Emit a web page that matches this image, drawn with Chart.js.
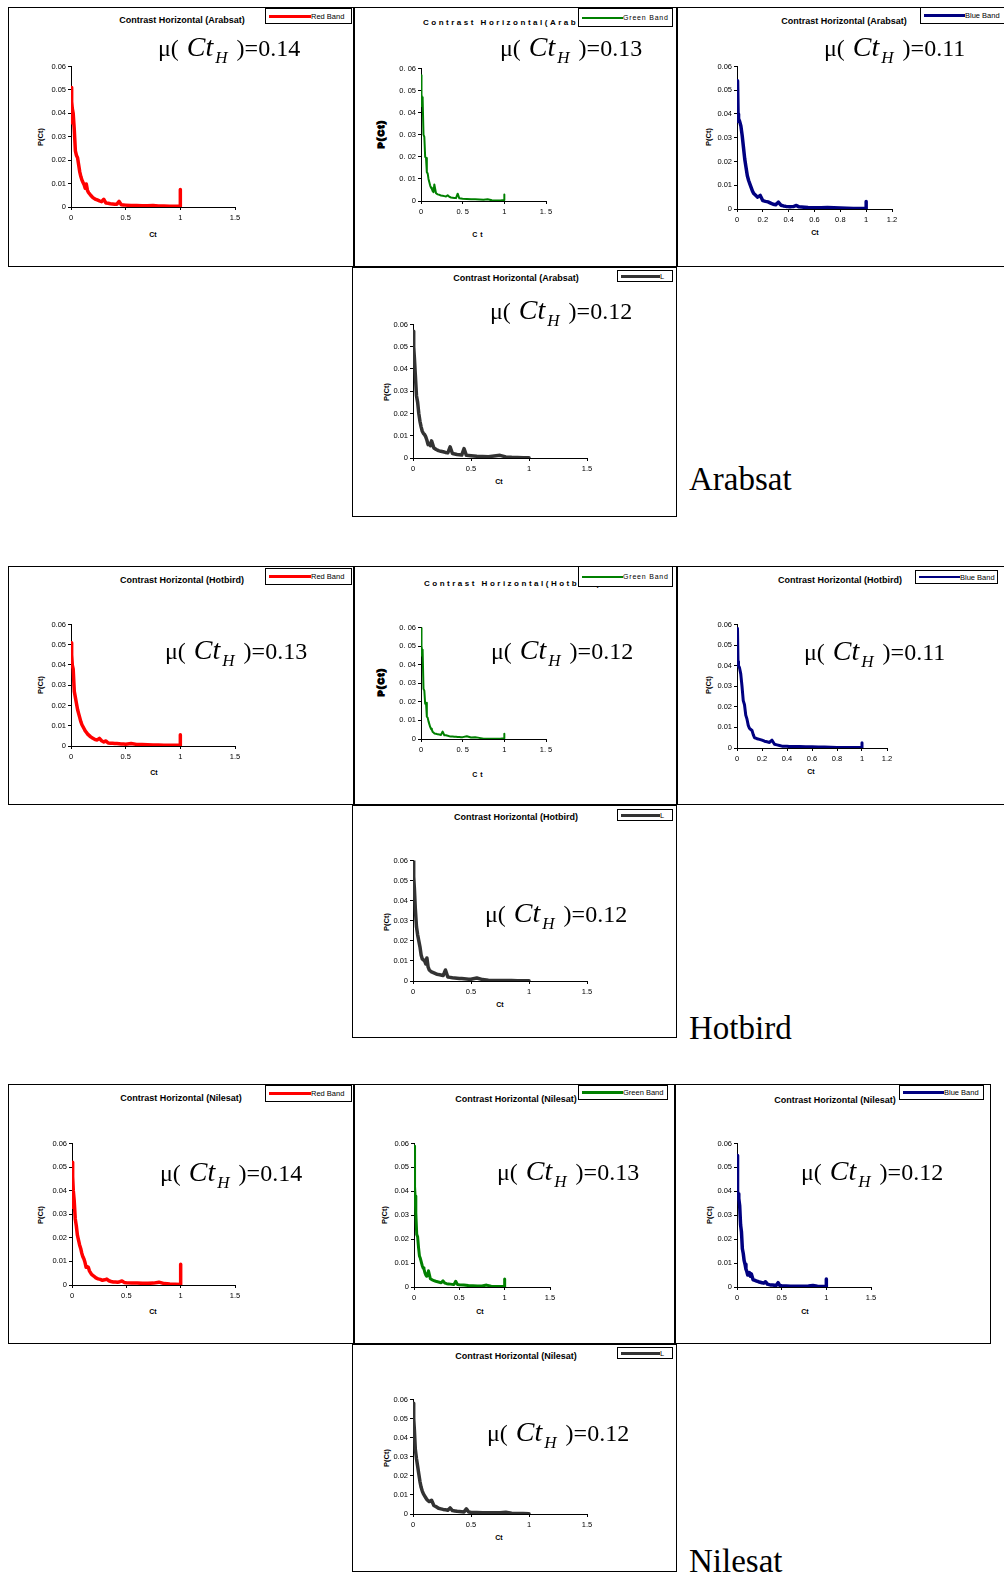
<!DOCTYPE html>
<html>
<head>
<meta charset="utf-8">
<title>Contrast Horizontal</title>
<script src="https://cdn.jsdelivr.net/npm/chart.js@4.4.1/dist/chart.umd.min.js"></script>
<style>
  html, body { margin: 0; padding: 0; background: #fff; width: 1004px; height: 1579px; overflow: hidden; }
  #page { position: relative; width: 1004px; height: 1579px; }
  .box { position: absolute; border: 1px solid #000; box-sizing: border-box; }
  .title { position: absolute; font: bold 9px 'Liberation Sans', Arial, sans-serif; line-height: 10px; white-space: nowrap; transform: translateX(-50%); z-index: 1; }
  .title.spaced { transform: none; font-size: 8px; letter-spacing: 2.5px; }
  .legend { position: absolute; background: #fff; border: 1px solid #000; box-sizing: border-box; display: flex; align-items: center; font: 7.5px 'Liberation Sans', Arial, sans-serif; padding: 0 0 0 3px; z-index: 3; white-space: nowrap; overflow: hidden; }
  .legend .sample { flex: none; }
  .legend.spaced span { letter-spacing: 0.8px; font-size: 7px; }
  .mu { position: absolute; font: 24px 'Liberation Serif', 'Times New Roman', serif; line-height: 1; white-space: nowrap; }
  .mu .ct { font-style: italic; font-size: 28px; line-height: 1; margin-left: 2px; }
  .mu .sub { font-style: italic; font-size: 17px; line-height: 1; position: relative; top: 7px; margin-left: 2px; margin-right: 3px; }
  .ytitle { position: absolute; font: bold 7.5px 'Liberation Sans', Arial, sans-serif; line-height: 8px; white-space: nowrap; transform: translate(-50%, -50%) rotate(-90deg); }
  .ytitle.blob { font-size: 9px; letter-spacing: 1.5px; -webkit-text-stroke: 1.4px #000; }
  .xtitle { position: absolute; font: bold 7px 'Liberation Sans', Arial, sans-serif; line-height: 8px; white-space: nowrap; transform: translate(-50%, -50%); }
  .xtitle.spaced { letter-spacing: 3px; }
  .sat { position: absolute; font: 33px 'Liberation Serif', 'Times New Roman', serif; line-height: 1; }
</style>
</head>
<body>
<div id="page"></div>
<script>
// Ct values (x axis), shared by every curve; last point repeats 1.0 for the end spike
const ctGrid = [
  0, 0.004, 0.008, 0.012,
  0.02, 0.03, 0.04, 0.05, 0.06, 0.07, 0.08, 0.09, 0.1, 0.11, 0.12, 0.13, 0.14, 0.15, 0.16,
  0.18, 0.2, 0.22, 0.24, 0.26, 0.28, 0.3, 0.32, 0.34, 0.36, 0.38, 0.4, 0.42, 0.44, 0.46, 0.48, 0.5,
  0.55, 0.6, 0.65, 0.7, 0.75, 0.8, 0.85, 0.9, 0.95, 1.0, 1.0
];

// P(Ct)
const arabsatRed = [
  0.036, 0.051, 0.045, 0.042,
  0.040, 0.033, 0.024, 0.022, 0.021, 0.018, 0.015, 0.013, 0.0115, 0.0105, 0.0095, 0.008, 0.0098, 0.0072, 0.0062,
  0.005, 0.004, 0.0034, 0.003, 0.0026, 0.0023, 0.0033, 0.0017, 0.0016, 0.0014, 0.0013, 0.0012, 0.0012, 0.0024, 0.001, 0.0009, 0.0008,
  0.0006, 0.0006, 0.0005, 0.0005, 0.0006, 0.0004, 0.0004, 0.0003, 0.0003, 0.0003, 0.0075
];
const arabsatGreen = [
  0.043, 0.057, 0.048, 0.047,
  0.046, 0.030, 0.029, 0.020, 0.0195, 0.013, 0.0125, 0.010, 0.0085, 0.007, 0.006, 0.0055, 0.0045, 0.004, 0.0075,
  0.0035, 0.003, 0.0028, 0.0025, 0.0024, 0.0022, 0.002, 0.0026, 0.0019, 0.0016, 0.0015, 0.0014, 0.0013, 0.0033, 0.0012, 0.0011, 0.001,
  0.0009, 0.0008, 0.0008, 0.0007, 0.0006, 0.0008, 0.0003, 0.0002, 0.0002, 0.0004, 0.003
];
const arabsatBlue = [
  0.037, 0.054, 0.040, 0.038,
  0.037, 0.035, 0.031, 0.026, 0.021, 0.0175, 0.014, 0.012, 0.0105, 0.009, 0.0075, 0.0065, 0.006, 0.0055, 0.005,
  0.0057, 0.0035, 0.0032, 0.003, 0.0025, 0.002, 0.0018, 0.0029, 0.0016, 0.0013, 0.0011, 0.001, 0.001, 0.0011, 0.0015, 0.0009, 0.0008,
  0.0006, 0.0005, 0.0005, 0.0006, 0.0005, 0.0004, 0.0003, 0.0002, 0.0002, 0.0002, 0.0032
];
const arabsatL = [
  0.045, 0.057, 0.050, 0.045,
  0.0375, 0.028, 0.025, 0.020, 0.0165, 0.014, 0.012, 0.011, 0.0105, 0.0095, 0.008, 0.006, 0.0065, 0.0055, 0.0077,
  0.0045, 0.0038, 0.0033, 0.003, 0.0028, 0.0025, 0.0023, 0.005, 0.002, 0.0018, 0.0016, 0.0015, 0.0013, 0.0042, 0.0012, 0.0011, 0.001,
  0.0008, 0.0007, 0.0006, 0.0009, 0.0012, 0.0005, 0.0003, 0.0002, 0.0001, 0.0001, 0.0001
];
const hotbirdRed = [
  0.040, 0.051, 0.045, 0.040,
  0.038, 0.027, 0.024, 0.021, 0.018, 0.016, 0.014, 0.012, 0.0105, 0.0095, 0.0085, 0.0075, 0.0068, 0.006, 0.0055,
  0.0045, 0.0038, 0.0032, 0.003, 0.0038, 0.0026, 0.002, 0.0025, 0.0015, 0.0014, 0.0013, 0.0012, 0.0012, 0.0011, 0.001, 0.001, 0.0009,
  0.0012, 0.0008, 0.0007, 0.0006, 0.0005, 0.0005, 0.0004, 0.0004, 0.0004, 0.0004, 0.0055
];
const hotbirdGreen = [
  0.045, 0.060, 0.050, 0.048,
  0.047, 0.027, 0.026, 0.019, 0.0195, 0.012, 0.0115, 0.0095, 0.008, 0.0065, 0.0055, 0.005, 0.0038, 0.0035, 0.003,
  0.0028, 0.0025, 0.0024, 0.0022, 0.004, 0.002, 0.002, 0.0018, 0.0015, 0.0013, 0.0013, 0.0012, 0.0012, 0.0011, 0.0011, 0.001, 0.001,
  0.0015, 0.0008, 0.001, 0.0006, 0.0001, 0.0001, 0.0001, 0.0001, 0.0001, 0.0004, 0.0028
];
const hotbirdBlue = [
  0.040, 0.058, 0.042, 0.040,
  0.039, 0.036, 0.030, 0.023, 0.021, 0.016, 0.014, 0.011, 0.0095, 0.009, 0.0085, 0.0065, 0.005, 0.0048, 0.0045,
  0.0042, 0.0038, 0.0033, 0.003, 0.0027, 0.0038, 0.0018, 0.0015, 0.0012, 0.0009, 0.0008, 0.0008, 0.0007, 0.0007, 0.0007, 0.0007, 0.0007,
  0.0006, 0.0006, 0.0005, 0.0005, 0.0004, 0.0003, 0.0003, 0.0002, 0.0002, 0.0002, 0.0026
];
const hotbirdL = [
  0.048, 0.060, 0.052, 0.046,
  0.036, 0.027, 0.023, 0.020, 0.017, 0.013, 0.011, 0.0105, 0.010, 0.0085, 0.0115, 0.007, 0.0055, 0.005, 0.0045,
  0.004, 0.0035, 0.0032, 0.003, 0.0027, 0.0055, 0.002, 0.0018, 0.0016, 0.0015, 0.0014, 0.0013, 0.0012, 0.0011, 0.001, 0.0009, 0.0009,
  0.0015, 0.0007, 0.0004, 0.0003, 0.0003, 0.0002, 0.0002, 0.0001, 0.0001, 0.0001, 0.0001
];
const nilesatRed = [
  0.033, 0.052, 0.046, 0.040,
  0.036, 0.028, 0.025, 0.021, 0.019, 0.017, 0.0155, 0.0135, 0.012, 0.011, 0.0095, 0.0075, 0.0078, 0.0075, 0.006,
  0.0045, 0.0038, 0.003, 0.0026, 0.0024, 0.002, 0.0022, 0.0025, 0.0018, 0.0015, 0.0013, 0.0013, 0.0012, 0.0014, 0.0017, 0.0011, 0.001,
  0.0009, 0.0008, 0.0007, 0.0007, 0.0008, 0.0012, 0.0006, 0.0004, 0.0003, 0.0002, 0.0088
];
const nilesatGreen = [
  0.059, 0.050, 0.042, 0.038,
  0.031, 0.022, 0.021, 0.0165, 0.013, 0.012, 0.0105, 0.009, 0.008, 0.0075, 0.006, 0.005, 0.0045, 0.005, 0.0068,
  0.0035, 0.003, 0.0027, 0.0024, 0.0022, 0.002, 0.0018, 0.0026, 0.0016, 0.0014, 0.0013, 0.0012, 0.0011, 0.001, 0.0024, 0.001, 0.0009,
  0.0008, 0.0006, 0.0005, 0.0004, 0.0004, 0.0008, 0.0003, 0.0002, 0.0002, 0.0002, 0.0033
];
const nilesatBlue = [
  0.037, 0.055, 0.040, 0.039,
  0.037, 0.034, 0.026, 0.023, 0.016, 0.014, 0.011, 0.0095, 0.0075, 0.0065, 0.005, 0.0055, 0.006, 0.0045, 0.0055,
  0.003, 0.0028, 0.0025, 0.0022, 0.002, 0.0018, 0.0016, 0.0022, 0.0012, 0.001, 0.0008, 0.0008, 0.0007, 0.0007, 0.0018, 0.0006, 0.0005,
  0.0004, 0.0003, 0.0003, 0.0003, 0.0003, 0.0004, 0.0006, 0.0003, 0.0002, 0.0002, 0.0033
];
const nilesatL = [
  0.045, 0.058, 0.050, 0.044,
  0.034, 0.029, 0.025, 0.021, 0.017, 0.014, 0.012, 0.0105, 0.0095, 0.0085, 0.0075, 0.007, 0.0065, 0.0068, 0.0072,
  0.0045, 0.0038, 0.003, 0.0027, 0.0024, 0.0022, 0.002, 0.0032, 0.0018, 0.0016, 0.0014, 0.0013, 0.0012, 0.0011, 0.0027, 0.001, 0.0009,
  0.0008, 0.0007, 0.0006, 0.0006, 0.0007, 0.0009, 0.0004, 0.0003, 0.0002, 0.0001, 0.0001
];

const satellites = ['Arabsat', 'Hotbird', 'Nilesat'];
const bandNames = ['Red Band', 'Green Band', 'Blue Band', 'L'];
const meanCt = ['0.14', '0.13', '0.11', '0.12', '0.13', '0.12', '0.11', '0.12', '0.14', '0.13', '0.12', '0.12'];

const RED = '#ff0000';
const GREEN = '#008000';
const BLUE = '#000080';
const GRAY = '#333333';
const sampleWidth = [42, 41, 41, 39];

// layout of each panel: box, plot area [L, T, R, B], title, legend, mean label, axis titles
const panels = [
  { sat: 0, band: 0, values: arabsatRed, color: RED, lw: 3.5, xMax: 1.5, xStep: 0.5,
    box: [8, 7, 346, 260], plot: [71, 66, 235, 207], title: [182, 20], legend: [265, 8, 87, 16],
    mu: [158, 57], yTitle: [41, 137], xTitle: [153, 235] },
  { sat: 0, band: 1, values: arabsatGreen, color: GREEN, lw: 2, xMax: 1.5, xStep: 0.5, spaced: true,
    box: [354, 7, 323, 260], plot: [421, 68, 546, 201], title: [423, 23], legend: [578, 8, 95, 19],
    mu: [500, 57], yTitle: [381, 134], xTitle: [479, 235] },
  { sat: 0, band: 2, values: arabsatBlue, color: BLUE, lw: 3.5, xMax: 1.2, xStep: 0.2,
    box: [677, 7, 340, 260], plot: [737, 66, 892, 209], title: [844, 21], legend: [920, 7, 90, 17],
    mu: [824, 57], yTitle: [709, 137], xTitle: [815, 233] },
  { sat: 0, band: 3, values: arabsatL, color: GRAY, lw: 3.5, xMax: 1.5, xStep: 0.5,
    box: [352, 267, 325, 250], plot: [413, 324, 587, 458], title: [516, 278], legend: [617, 270, 56, 12],
    mu: [490, 320], yTitle: [387, 392], xTitle: [499, 482] },
  { sat: 1, band: 0, values: hotbirdRed, color: RED, lw: 3.5, xMax: 1.5, xStep: 0.5,
    box: [8, 566, 346, 239], plot: [71, 624, 235, 746], title: [182, 580], legend: [265, 568, 87, 17],
    mu: [165, 660], yTitle: [41, 685], xTitle: [154, 773] },
  { sat: 1, band: 1, values: hotbirdGreen, color: GREEN, lw: 2, xMax: 1.5, xStep: 0.5, spaced: true,
    box: [354, 566, 323, 239], plot: [421, 627, 546, 739], title: [424, 584], legend: [578, 566, 95, 21],
    mu: [491, 660], yTitle: [381, 682], xTitle: [479, 775] },
  { sat: 1, band: 2, values: hotbirdBlue, color: BLUE, lw: 3, xMax: 1.2, xStep: 0.2,
    box: [677, 566, 340, 239], plot: [737, 624, 887, 748], title: [840, 580], legend: [915, 570, 83, 14],
    mu: [804, 661], yTitle: [709, 685], xTitle: [811, 772] },
  { sat: 1, band: 3, values: hotbirdL, color: GRAY, lw: 3.5, xMax: 1.5, xStep: 0.5,
    box: [352, 805, 325, 233], plot: [413, 860, 587, 981], title: [516, 817], legend: [617, 809, 56, 12],
    mu: [485, 923], yTitle: [387, 922], xTitle: [500, 1005] },
  { sat: 2, band: 0, values: nilesatRed, color: RED, lw: 3.5, xMax: 1.5, xStep: 0.5,
    box: [8, 1084, 346, 260], plot: [72, 1143, 235, 1285], title: [181, 1098], legend: [265, 1085, 87, 17],
    mu: [160, 1182], yTitle: [41, 1215], xTitle: [153, 1312] },
  { sat: 2, band: 1, values: nilesatGreen, color: GREEN, lw: 3, xMax: 1.5, xStep: 0.5,
    box: [354, 1084, 321, 260], plot: [414, 1143, 550, 1287], title: [516, 1099], legend: [578, 1085, 90, 15],
    mu: [497, 1181], yTitle: [385, 1215], xTitle: [480, 1312] },
  { sat: 2, band: 2, values: nilesatBlue, color: BLUE, lw: 3.5, xMax: 1.5, xStep: 0.5,
    box: [675, 1084, 316, 260], plot: [737, 1143, 871, 1287], title: [835, 1100], legend: [899, 1085, 85, 15],
    mu: [801, 1181], yTitle: [710, 1215], xTitle: [805, 1312] },
  { sat: 2, band: 3, values: nilesatL, color: GRAY, lw: 3.5, xMax: 1.5, xStep: 0.5,
    box: [352, 1344, 325, 228], plot: [413, 1399, 587, 1514], title: [516, 1356], legend: [617, 1347, 56, 12],
    mu: [487, 1442], yTitle: [387, 1458], xTitle: [499, 1538] }
];

const satLabels = [[689, 463], [689, 1012], [689, 1545]];

const page = document.getElementById('page');
const tickFont = { family: "'Liberation Sans', Arial, sans-serif", size: 7.5 };

const addDiv = (cls, css, html) => {
  const d = document.createElement('div');
  d.className = cls;
  d.style.cssText = css;
  d.innerHTML = html;
  page.appendChild(d);
  return d;
};

const makeChart = (p) => {
  const [L, T, R, B] = p.plot;
  const w = R - L + 42;
  const h = B - T + 26;
  const canvas = document.createElement('canvas');
  canvas.width = w;
  canvas.height = h;
  canvas.style.cssText = `position:absolute;left:${L - 30}px;top:${T - 6}px;width:${w}px;height:${h}px;z-index:2;`;
  page.appendChild(canvas);

  const points = ctGrid.map((x, i) => ({ x, y: p.values[i] }));
  const fmt = (v) => {
    const s = String(+Number(v).toFixed(2));
    return p.spaced ? s.replace('.', '. ') : s;
  };
  const axisGrid = { drawOnChartArea: false, drawTicks: true, tickLength: 3, color: '#000', lineWidth: 1 };

  new Chart(canvas, {
    type: 'scatter',
    data: {
      datasets: [{
        label: bandNames[p.band],
        data: points,
        showLine: true,
        borderColor: p.color,
        backgroundColor: p.color,
        borderWidth: p.lw,
        borderJoinStyle: 'round',
        borderCapStyle: 'round',
        pointRadius: 0,
        tension: 0
      }]
    },
    options: {
      responsive: false,
      animation: false,
      events: [],
      layout: { padding: { left: 0, top: 6, right: 12, bottom: 0 } },
      plugins: { legend: { display: false }, tooltip: { enabled: false }, title: { display: false } },
      scales: {
        x: {
          type: 'linear', min: 0, max: p.xMax,
          afterFit: (s) => { s.height = 20; },
          ticks: { stepSize: p.xStep, color: '#000', font: tickFont, padding: 3, maxRotation: 0, autoSkip: false, callback: fmt },
          grid: axisGrid,
          border: { display: true, color: '#000', width: 1 }
        },
        y: {
          type: 'linear', min: 0, max: 0.06,
          afterFit: (s) => { s.width = 30; },
          ticks: { stepSize: 0.01, color: '#000', font: tickFont, padding: 2, autoSkip: false, callback: fmt },
          grid: axisGrid,
          border: { display: true, color: '#000', width: 1 }
        }
      }
    }
  });
};

panels.forEach((p, i) => {
  const [bx, by, bw, bh] = p.box;
  addDiv('box', `left:${bx}px;top:${by}px;width:${bw}px;height:${bh}px;`, '');

  makeChart(p);

  const titleText = p.spaced
    ? `Contrast Horizontal(${satellites[p.sat]})`
    : `Contrast Horizontal (${satellites[p.sat]})`;
  addDiv(p.spaced ? 'title spaced' : 'title', `left:${p.title[0]}px;top:${p.title[1] - 5}px;`, titleText);

  const [lx, ly, lw, lh] = p.legend;
  addDiv(p.spaced ? 'legend spaced' : 'legend', `left:${lx}px;top:${ly}px;width:${lw}px;height:${lh}px;`,
    `<div class="sample" style="width:${sampleWidth[p.band]}px;height:${Math.max(2, p.lw - 0.5)}px;background:${p.color};"></div><span>${bandNames[p.band]}</span>`);

  addDiv('mu', `left:${p.mu[0]}px;top:${p.mu[1] - 24}px;z-index:4;`,
    `μ( <span class="ct">Ct</span><span class="sub">H</span> )=${meanCt[i]}`);

  addDiv(p.spaced ? 'ytitle blob' : 'ytitle', `left:${p.yTitle[0]}px;top:${p.yTitle[1]}px;`, 'P(Ct)');
  addDiv(p.spaced ? 'xtitle spaced' : 'xtitle', `left:${p.xTitle[0]}px;top:${p.xTitle[1]}px;`, 'Ct');
});

satLabels.forEach(([x, y], i) => {
  addDiv('sat', `left:${x}px;top:${y}px;`, satellites[i]);
});
</script>
</body>
</html>
